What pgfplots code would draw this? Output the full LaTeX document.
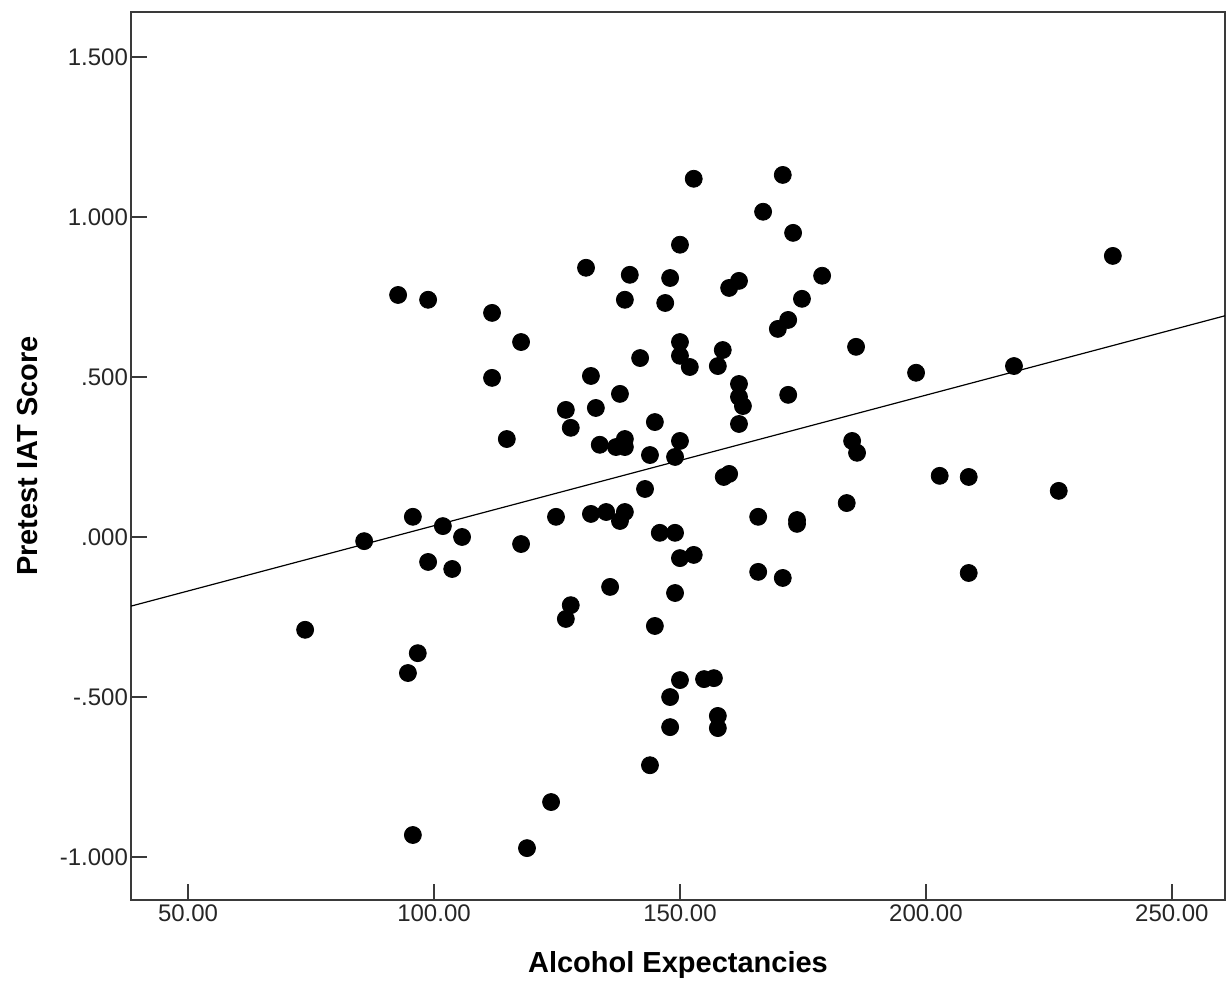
\documentclass[border=0pt]{standalone}
\usepackage{pgfplots}
\pgfplotsset{compat=1.18}
\usepackage{fontspec}
\setmainfont{Liberation Sans}
\definecolor{axgray}{HTML}{3A3A3A}
\begin{document}
\begin{tikzpicture}
\useasboundingbox (-65.5pt,-42pt) rectangle (548pt,450pt);
\begin{axis}[
  at={(0,0)}, anchor=south west,
  scale only axis,
  width=547pt, height=444pt,
  xmin=38.4, xmax=260.8,
  ymin=-1.134, ymax=1.64,
  axis line style={axgray, line width=1pt},
  every tick/.style={axgray, line width=1pt},
  tick align=inside,
  major tick length=8pt,
  xtick pos=bottom, ytick pos=left,
  xtick={50,100,150,200,250},
  xticklabels={50.00,100.00,150.00,200.00,250.00},
  ytick={-1,-0.5,0,0.5,1,1.5},
  yticklabels={-1.000,-.500,.000,.500,1.000,1.500},
  /pgf/number format/assume math mode=true,
  ticklabel style={font=\fontsize{12pt}{14pt}\selectfont, text=black!85},
  xticklabel style={yshift=1pt},
  yticklabel style={xshift=2pt},
  xlabel={\textbf{Alcohol Expectancies}},
  ylabel={\textbf{Pretest IAT Score}},
  label style={font=\fontsize{14.5pt}{17pt}\selectfont},
  xlabel style={at={(axis description cs:0.5,0)}, anchor=center, yshift=-32.5pt},
  ylabel style={at={(axis description cs:0,0.5)}, anchor=center, yshift=51.5pt},
  clip=true,
]
\addplot[only marks, mark=*, mark size=4.25pt, mark options={fill=black, draw=black}] coordinates {
(73.8,-0.29) (85.8,-0.013) (92.7,0.756) (98.8,0.741) (95.7,0.063) (94.7,-0.425)
(96.7,-0.363) (95.7,-0.931) (98.8,-0.078) (101.8,0.034) (103.7,-0.10) (105.7,0.0)
(111.8,0.70) (111.8,0.497) (114.8,0.306) (117.7,0.609) (117.7,-0.022) (118.9,-0.972)
(123.8,-0.828) (124.8,0.063) (126.8,0.397) (127.8,0.341) (126.8,-0.256) (127.8,-0.213)
(130.9,0.841) (131.9,0.503) (131.9,0.072) (132.9,0.403) (133.7,0.288) (135.0,0.078)
(135.8,-0.156) (137.0,0.281) (137.8,0.447) (137.8,0.050) (138.8,0.741) (138.8,0.306)
(138.8,0.281) (138.8,0.078) (139.8,0.819) (141.9,0.559) (142.9,0.150) (143.9,0.256)
(143.9,-0.713) (144.9,0.359) (144.9,-0.278) (145.9,0.013) (147.0,0.731) (148.0,0.809)
(148.0,-0.50) (148.0,-0.594) (149.0,0.25) (149.0,0.013) (149.0,-0.175) (150.0,0.913)
(150.0,0.609) (150.0,0.566) (150.0,0.30) (150.0,-0.066) (150.0,-0.447) (152.0,0.531)
(152.8,-0.056) (152.8,1.119) (154.9,-0.444) (156.9,-0.441) (157.7,0.534) (157.7,-0.559)
(157.7,-0.597) (158.7,0.584) (158.9,0.1875) (160.0,0.778) (160.0,0.197) (162.0,0.80)
(162.0,0.478) (162.0,0.4375) (162.0,0.353) (162.8,0.409) (165.9,-0.109) (165.9,0.063)
(166.9,1.016) (169.9,0.65) (170.9,1.131) (170.9,-0.128) (172.0,0.678) (172.0,0.444)
(173.0,0.95) (173.8,0.053) (173.8,0.041) (174.8,0.744) (178.9,0.816) (183.9,0.106)
(185.0,0.30) (185.8,0.594) (186.0,0.263) (198.0,0.513) (202.8,0.191) (208.7,0.1875)
(208.7,-0.1125) (217.9,0.534) (227.0,0.144) (238.0,0.878)
};
\addplot[black, line width=0.6pt] coordinates {(38.4,-0.216) (260.8,0.691)};
\end{axis}
\end{tikzpicture}
\end{document}
